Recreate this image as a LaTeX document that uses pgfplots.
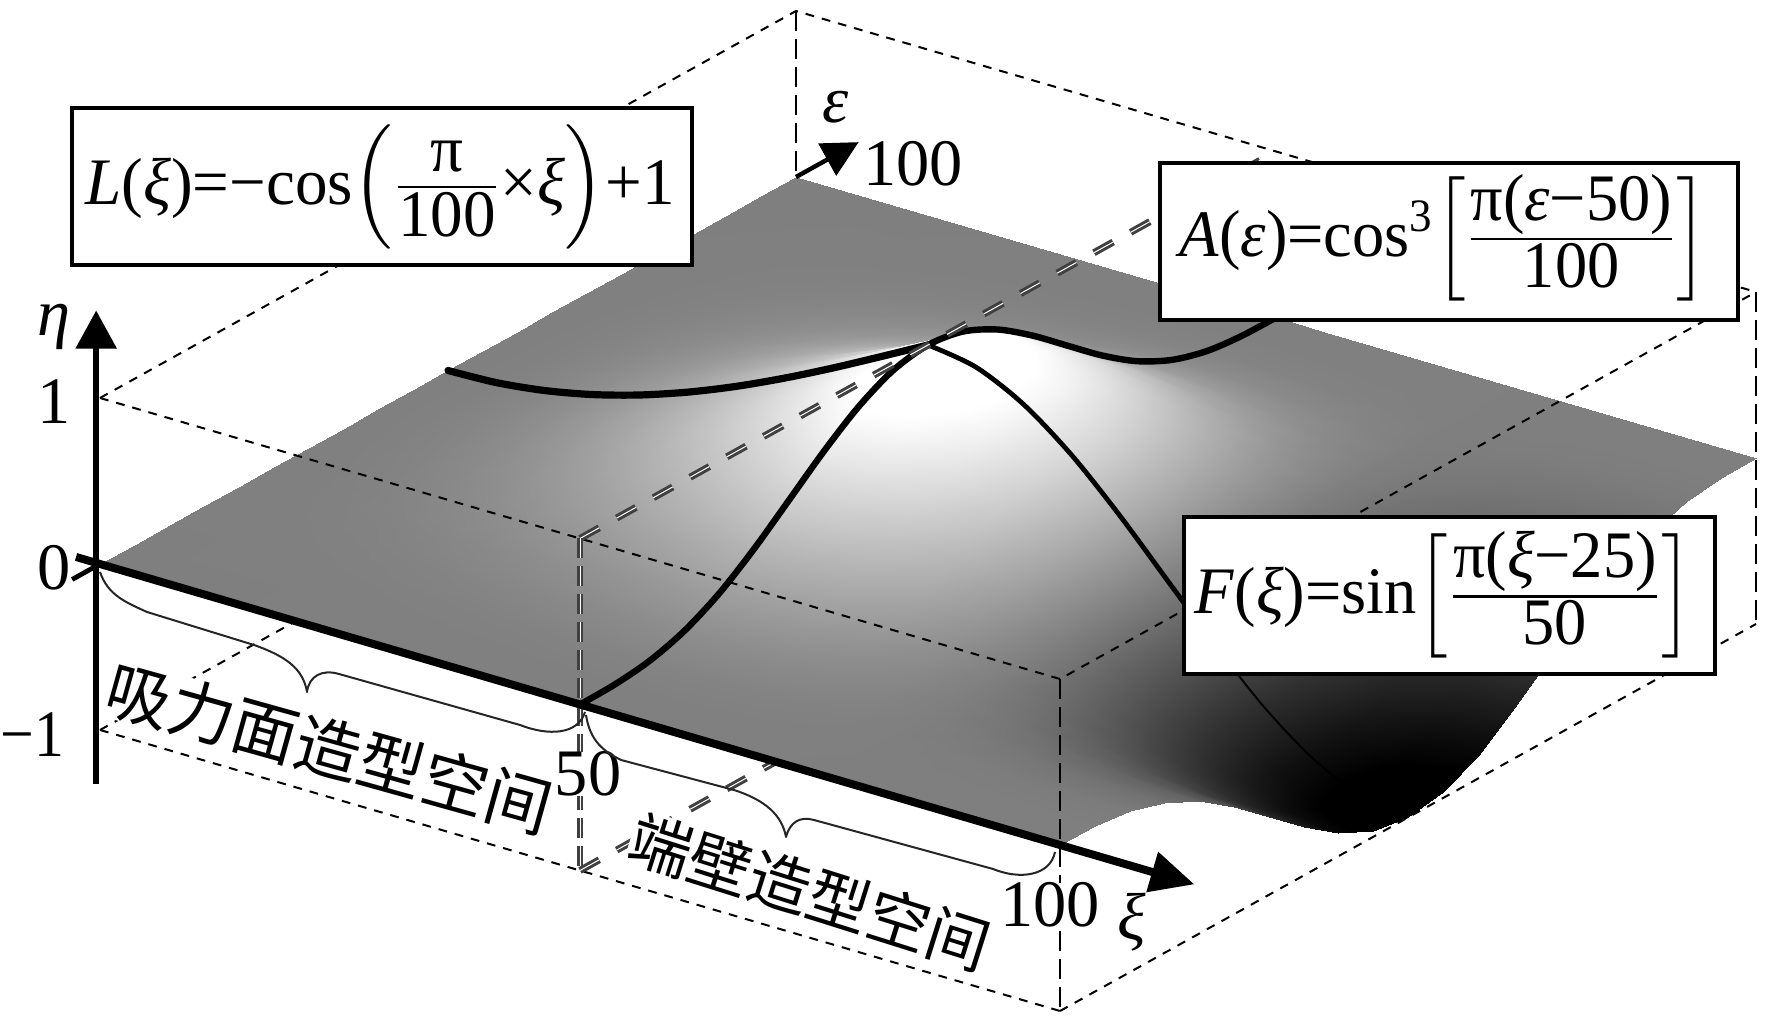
\documentclass[border=0pt]{standalone}
\usepackage{fontspec}
\setmainfont{Liberation Serif}
\newfontfamily\cjk{Noto Sans CJK SC}
\usepackage{graphicx}
\usepackage{pgfplots}
\pgfplotsset{compat=1.18}
\usetikzlibrary{arrows.meta}
\newcommand{\xig}{\textit{ξ}}
\newcommand{\epsg}{\textit{ε}}
\newcommand{\fr}[4]{\genfrac{}{}{0.7pt}{1}{\mbox{\raisebox{#3}{#1}}}{\mbox{\raisebox{#4}{#2}}}}
\usepackage{amsmath}
\begin{document}
\begin{tikzpicture}
\fontsize{16.6}{20}\selectfont
\path[use as bounding box] (0,0) rectangle (443pt,256pt);
\begin{axis}[
  at={(25pt,115pt)}, anchor=origin,
  x={(2.4pt,-0.7025pt)}, y={(1.74pt,0.9675pt)}, z={(0pt,41.5pt)},
  xmin=-5, xmax=120, ymin=0, ymax=115, zmin=-1.4, zmax=1.6,
  hide axis, clip=false, no markers,
  colormap={bw}{gray(0cm)=(0); gray(0.1cm)=(0); gray(1cm)=(0.5); gray(1.85cm)=(1); gray(2cm)=(1)},
  point meta min=-1, point meta max=1,
  boxline/.style={black, line width=0.5pt, dash pattern=on 2.2pt off 2pt},
  vline/.style={black, line width=0.4pt, dash pattern=on 5pt off 2pt},
  dbl/.style={black!75, line width=0.75pt, double=white, double distance=0.25pt, dash pattern=on 5.5pt off 5pt},
]
% lines that pass under the surface
\addplot3[boxline] coordinates {(0,0,-1) (100,0,-1)};
\addplot3[boxline] coordinates {(0,0,-1) (0,100,-1)};
\addplot3[dbl] coordinates {(50,0,-1) (50,100,-1)};
% surface: eta at xi = 0,5,...,100 for epsilon = 100,95,...,0
\addplot3[surf, shader=interp, z buffer=default, mesh/ordering=x varies, mesh/cols=21, point meta=z] coordinates {
(0,100,0) (5,100,0) (10,100,0) (15,100,0) (20,100,0) (25,100,0) (30,100,0) (35,100,0) (40,100,0) (45,100,0) (50,100,0) (55,100,0) (60,100,0) (65,100,0) (70,100,0) (75,100,0) (80,100,0) (85,100,0) (90,100,0) (95,100,0) (100,100,0)
(0,95,0) (5,95,0) (10,95,0) (15,95,0) (20,95,.001) (25,95,.001) (30,95,.002) (35,95,.002) (40,95,.003) (45,95,.003) (50,95,.004) (55,95,.004) (60,95,.003) (65,95,.002) (70,95,.001) (75,95,0) (80,95,-.001) (85,95,-.002) (90,95,-.003) (95,95,-.004) (100,95,-.004)
(0,90,0) (5,90,0) (10,90,.001) (15,90,.003) (20,90,.006) (25,90,.009) (30,90,.012) (35,90,.016) (40,90,.020) (45,90,.025) (50,90,.030) (55,90,.028) (60,90,.024) (65,90,.017) (70,90,.009) (75,90,0) (80,90,-.009) (85,90,-.017) (90,90,-.024) (95,90,-.028) (100,90,-.030)
(0,85,0) (5,85,.001) (10,85,.005) (15,85,.010) (20,85,.018) (25,85,.027) (30,85,.039) (35,85,.051) (40,85,.065) (45,85,.079) (50,85,.094) (55,85,.089) (60,85,.076) (65,85,.055) (70,85,.029) (75,85,0) (80,85,-.029) (85,85,-.055) (90,85,-.076) (95,85,-.089) (100,85,-.094)
(0,80,0) (5,80,.003) (10,80,.010) (15,80,.022) (20,80,.039) (25,80,.059) (30,80,.084) (35,80,.111) (40,80,.140) (45,80,.171) (50,80,.203) (55,80,.193) (60,80,.164) (65,80,.119) (70,80,.063) (75,80,0) (80,80,-.063) (85,80,-.119) (90,80,-.164) (95,80,-.193) (100,80,-.203)
(0,75,0) (5,75,.004) (10,75,.017) (15,75,.039) (20,75,.068) (25,75,.104) (30,75,.146) (35,75,.193) (40,75,.244) (45,75,.298) (50,75,.354) (55,75,.336) (60,75,.286) (65,75,.208) (70,75,.109) (75,75,0) (80,75,-.109) (85,75,-.208) (90,75,-.286) (95,75,-.336) (100,75,-.354)
(0,70,0) (5,70,.007) (10,70,.026) (15,70,.058) (20,70,.101) (25,70,.155) (30,70,.218) (35,70,.289) (40,70,.366) (45,70,.447) (50,70,.530) (55,70,.504) (60,70,.428) (65,70,.311) (70,70,.164) (75,70,0) (80,70,-.164) (85,70,-.311) (90,70,-.428) (95,70,-.504) (100,70,-.530)
(0,65,0) (5,65,.009) (10,65,.035) (15,65,.077) (20,65,.135) (25,65,.207) (30,65,.292) (35,65,.386) (40,65,.489) (45,65,.597) (50,65,.707) (55,65,.673) (60,65,.572) (65,65,.416) (70,65,.219) (75,65,0) (80,65,-.219) (85,65,-.416) (90,65,-.572) (95,65,-.673) (100,65,-.707)
(0,60,0) (5,60,.011) (10,60,.042) (15,60,.094) (20,60,.164) (25,60,.252) (30,60,.355) (35,60,.470) (40,60,.594) (45,60,.726) (50,60,.860) (55,60,.818) (60,60,.696) (65,60,.506) (70,60,.266) (75,60,0) (80,60,-.266) (85,60,-.506) (90,60,-.696) (95,60,-.818) (100,60,-.860)
(0,55,0) (5,55,.012) (10,55,.047) (15,55,.105) (20,55,.184) (25,55,.282) (30,55,.397) (35,55,.526) (40,55,.666) (45,55,.813) (50,55,.964) (55,55,.916) (60,55,.780) (65,55,.566) (70,55,.298) (75,55,0) (80,55,-.298) (85,55,-.566) (90,55,-.780) (95,55,-.916) (100,55,-.964)
(0,50,0) (5,50,.012) (10,50,.049) (15,50,.109) (20,50,.191) (25,50,.293) (30,50,.412) (35,50,.546) (40,50,.691) (45,50,.844) (50,50,1) (55,50,.951) (60,50,.809) (65,50,.588) (70,50,.309) (75,50,0) (80,50,-.309) (85,50,-.588) (90,50,-.809) (95,50,-.951) (100,50,-1)
(0,45,0) (5,45,.012) (10,45,.047) (15,45,.105) (20,45,.184) (25,45,.282) (30,45,.397) (35,45,.526) (40,45,.666) (45,45,.813) (50,45,.964) (55,45,.916) (60,45,.780) (65,45,.566) (70,45,.298) (75,45,0) (80,45,-.298) (85,45,-.566) (90,45,-.780) (95,45,-.916) (100,45,-.964)
(0,40,0) (5,40,.011) (10,40,.042) (15,40,.094) (20,40,.164) (25,40,.252) (30,40,.355) (35,40,.470) (40,40,.594) (45,40,.726) (50,40,.860) (55,40,.818) (60,40,.696) (65,40,.506) (70,40,.266) (75,40,0) (80,40,-.266) (85,40,-.506) (90,40,-.696) (95,40,-.818) (100,40,-.860)
(0,35,0) (5,35,.009) (10,35,.035) (15,35,.077) (20,35,.135) (25,35,.207) (30,35,.292) (35,35,.386) (40,35,.489) (45,35,.597) (50,35,.707) (55,35,.673) (60,35,.572) (65,35,.416) (70,35,.219) (75,35,0) (80,35,-.219) (85,35,-.416) (90,35,-.572) (95,35,-.673) (100,35,-.707)
(0,30,0) (5,30,.007) (10,30,.026) (15,30,.058) (20,30,.101) (25,30,.155) (30,30,.218) (35,30,.289) (40,30,.366) (45,30,.447) (50,30,.530) (55,30,.504) (60,30,.428) (65,30,.311) (70,30,.164) (75,30,0) (80,30,-.164) (85,30,-.311) (90,30,-.428) (95,30,-.504) (100,30,-.530)
(0,25,0) (5,25,.004) (10,25,.017) (15,25,.039) (20,25,.068) (25,25,.104) (30,25,.146) (35,25,.193) (40,25,.244) (45,25,.298) (50,25,.354) (55,25,.336) (60,25,.286) (65,25,.208) (70,25,.109) (75,25,0) (80,25,-.109) (85,25,-.208) (90,25,-.286) (95,25,-.336) (100,25,-.354)
(0,20,0) (5,20,.003) (10,20,.010) (15,20,.022) (20,20,.039) (25,20,.059) (30,20,.084) (35,20,.111) (40,20,.140) (45,20,.171) (50,20,.203) (55,20,.193) (60,20,.164) (65,20,.119) (70,20,.063) (75,20,0) (80,20,-.063) (85,20,-.119) (90,20,-.164) (95,20,-.193) (100,20,-.203)
(0,15,0) (5,15,.001) (10,15,.005) (15,15,.010) (20,15,.018) (25,15,.027) (30,15,.039) (35,15,.051) (40,15,.065) (45,15,.079) (50,15,.094) (55,15,.089) (60,15,.076) (65,15,.055) (70,15,.029) (75,15,0) (80,15,-.029) (85,15,-.055) (90,15,-.076) (95,15,-.089) (100,15,-.094)
(0,10,0) (5,10,0) (10,10,.001) (15,10,.003) (20,10,.006) (25,10,.009) (30,10,.012) (35,10,.016) (40,10,.020) (45,10,.025) (50,10,.030) (55,10,.028) (60,10,.024) (65,10,.017) (70,10,.009) (75,10,0) (80,10,-.009) (85,10,-.017) (90,10,-.024) (95,10,-.028) (100,10,-.030)
(0,5,0) (5,5,0) (10,5,0) (15,5,0) (20,5,.001) (25,5,.001) (30,5,.002) (35,5,.002) (40,5,.003) (45,5,.003) (50,5,.004) (55,5,.004) (60,5,.003) (65,5,.002) (70,5,.001) (75,5,0) (80,5,-.001) (85,5,-.002) (90,5,-.003) (95,5,-.004) (100,5,-.004)
(0,0,0) (5,0,0) (10,0,0) (15,0,0) (20,0,0) (25,0,0) (30,0,0) (35,0,0) (40,0,0) (45,0,0) (50,0,0) (55,0,0) (60,0,0) (65,0,0) (70,0,0) (75,0,0) (80,0,0) (85,0,0) (90,0,0) (95,0,0) (100,0,0)
};
% profile curves on the surface
\addplot3[black, smooth, line width=1.8pt, line cap=round] coordinates {(0,50,0) (5,50,.012) (10,50,.049) (15,50,.109) (20,50,.191) (25,50,.293) (30,50,.412) (35,50,.546) (40,50,.691) (45,50,.844) (50,50,1)};
\addplot3[black, smooth, line width=1.6pt, line cap=round] coordinates {(50,0,0) (50,5,.004) (50,10,.030) (50,15,.094) (50,20,.203) (50,25,.354) (50,30,.530) (50,35,.707) (50,40,.860) (50,45,.964) (50,50,1) (50,55,.964) (50,60,.860) (50,65,.707) (50,70,.530) (50,75,.354) (50,80,.203) (50,85,.094) (50,90,.030) (50,95,.004) (50,100,0)};
\addplot3[black, smooth, line width=1.2pt, line cap=round] coordinates {(50,50,1) (55,50,.951) (60,50,.809) (65,50,.588) (70,50,.309) (75,50,0) (80,50,-.309)};
\addplot3[black, smooth, line width=0.5pt] coordinates {(80,50,-.309) (85,50,-.588) (90,50,-.809) (95,50,-.951) (100,50,-1)};
% box lines in front of the surface
\addplot3[boxline] coordinates {(0,0,1) (100,0,1) (100,100,1)};
\addplot3[boxline] coordinates {(0,0,1) (0,100,1) (100,100,1)};
\addplot3[boxline] coordinates {(100,0,-1) (100,100,-1)};
\addplot3[dbl] coordinates {(50,0,1) (50,100,1)};
\addplot3[vline] coordinates {(0,100,1) (0,100,0)};
\addplot3[vline] coordinates {(100,100,1) (100,100,-1)};
\addplot3[vline] coordinates {(100,0,1) (100,0,-1)};
\addplot3[vline, black!75, line width=0.7pt, double=white, double distance=0.25pt] coordinates {(50,0,1) (50,0,-1)};
% coordinate axes
\addplot3[black, line width=1.2pt] coordinates {(0,-4,0) (0,0,0)};
\addplot3[black, line width=2pt, -{Triangle[length=11pt,width=10pt]}] coordinates {(-2.5,0,0) (114,0,0)};
\addplot3[black, line width=1.4pt, -{Triangle[length=9.5pt,width=10pt]}] coordinates {(-0.4,0,-1.33) (-0.4,0,1.52)};
\addplot3[black, line width=1.1pt, -{Triangle[length=9pt,width=9pt]}] coordinates {(0,100,0) (0,109,0)};
\end{axis}
% annotations, in pixels of the 1772x1024 picture
\begin{scope}[x=0.25pt, y=-0.25pt, yshift=256pt]
\node at (54,568) {0};
\node at (54,402) {1};
\node[anchor=east, inner sep=0pt] at (65,735) {\scalebox{0.9}[1]{−1}};
\node at (54,327) {\textit{η}};
\node at (836,107) {\epsg};
\node at (913,164) {100};
\node[fill=white, inner sep=0pt] at (588,774) {50};
\node[fill=white, inner sep=0pt] at (1050,905) {100};
\node at (1132,922) {\xig};
\node[rotate=-15.6, inner sep=0pt, fill=white] at (329,748) {\cjk\fontsize{16.4}{20}\selectfont 吸力面造型空间};
\node[rotate=-17.5, inner sep=0pt, fill=white] at (810,892) {\cjk\fontsize{15.6}{20}\selectfont 端壁造型空间};
\draw[black!85, line width=0.5pt, line join=round]
  (100,572) .. controls (108,595) and (125,602) .. (147,612) -- (254,645)
  .. controls (285,656) and (303,668) .. (307,692)
  .. controls (309,676) and (322,669) .. (339,674) -- (520,725)
  .. controls (548,736) and (578,735) .. (585,712);
\draw[black!85, line width=0.5pt, line join=round]
  (586,715) .. controls (590,742) and (605,752) .. (621,760) -- (734,790)
  .. controls (765,800) and (782,815) .. (786,837)
  .. controls (790,822) and (800,816) .. (814,820) -- (993,869)
  .. controls (1020,880) and (1050,876) .. (1055,852);
\draw[line width=1pt, fill=white] (72,108) rectangle (692,265);
\node at (380,187) {\scalebox{0.98}[1]{$\mbox{\textit{L}(\xig)=−cos}\!\left(\fr{π}{100}{1.5pt}{-2pt}\mbox{×\xig}\right)\!\mbox{+1}$}};
\draw[line width=1pt, fill=white] (1160,163) rectangle (1738,320);
\node at (1444,238) {\scalebox{0.97}[1]{$\mbox{\textit{A}(\epsg)=cos\textsuperscript{3}}\!\left[\fr{π(\epsg−50)}{100}{0pt}{-1.5pt}\right]$}};
\draw[line width=1pt, fill=white] (1184,517) rectangle (1715,674);
\node at (1444,595) {\scalebox{0.97}[1]{$\mbox{\textit{F}(\xig)=sin}\!\left[\fr{π(\xig−25)}{50}{0pt}{-1pt}\right]$}};
\end{scope}
\end{tikzpicture}
\end{document}
